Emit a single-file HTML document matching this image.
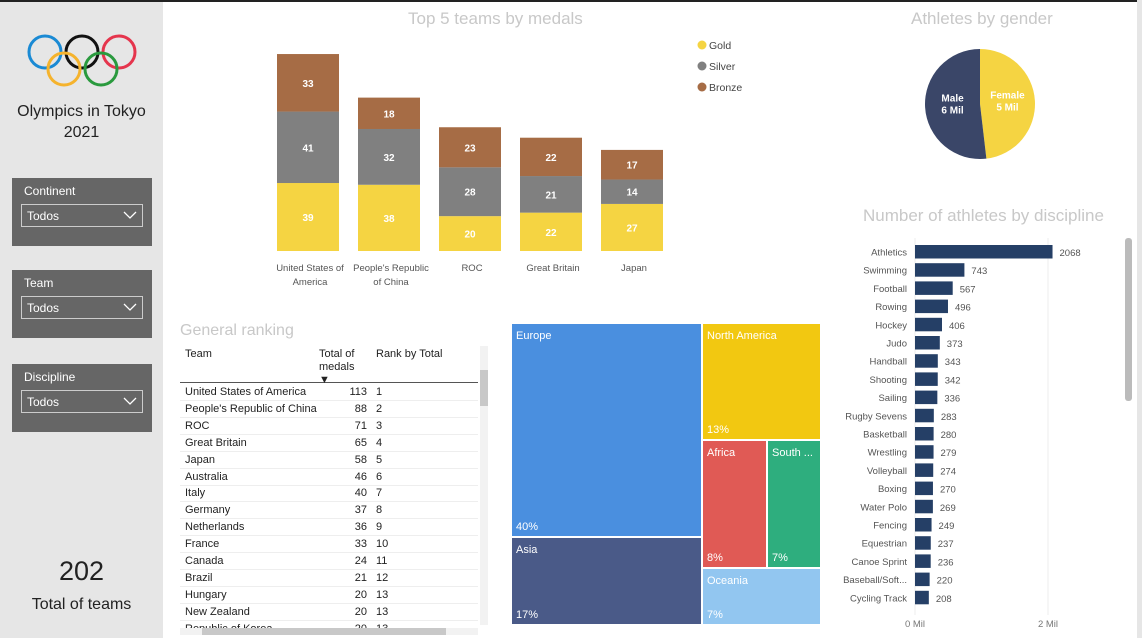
<!DOCTYPE html>
<html><head><meta charset="utf-8">
<style>
*{box-sizing:border-box;margin:0;padding:0}
body{width:1142px;height:638px;overflow:hidden;background:#fff;font-family:"Liberation Sans",sans-serif;position:relative}
.abs{position:absolute}
.title{color:#c8c8c8;font-size:17px;white-space:nowrap}
.slicer{position:absolute;left:12px;width:140px;height:68px;background:#666;color:#fff;font-size:12px}
.slicer .lbl{position:absolute;left:12px;top:6px}
.slicer .dd{position:absolute;left:9px;top:26px;width:122px;height:23px;border:1px solid #ccc;padding:4px 0 0 5px}
.slicer .dd svg{position:absolute;right:5px;top:6px}
.tr{position:absolute;left:180px;width:298px;height:17px;font-size:11px;color:#222;border-bottom:1px solid #eee}
</style></head><body>
<div class="abs" style="left:0;top:0;width:163px;height:638px;background:#e6e6e6"></div>
<div class="abs" style="left:0;top:0;width:1142px;height:2px;background:#222"></div>
<svg class="abs" style="left:25px;top:30px" width="115" height="58" viewBox="0 0 115 58">
<g fill="none" stroke-width="3">
<circle cx="20" cy="22" r="16" stroke="#1a8ad4"/><circle cx="57" cy="22" r="16" stroke="#111"/><circle cx="94" cy="22" r="16" stroke="#e5354d"/>
<circle cx="39" cy="39" r="16" stroke="#f5b32d"/><circle cx="76" cy="39" r="16" stroke="#2a9a3e"/></g></svg>
<div class="abs" style="left:0;top:101px;width:163px;text-align:center;font-size:16px;line-height:21px;color:#222">Olympics in Tokyo<br>2021</div>
<div class="slicer" style="top:178px"><div class="lbl">Continent</div><div class="dd">Todos<svg width="14" height="9"><polyline points="1,1 7,7 13,1" fill="none" stroke="#fff" stroke-width="1.3"/></svg></div></div>
<div class="slicer" style="top:270px"><div class="lbl">Team</div><div class="dd">Todos<svg width="14" height="9"><polyline points="1,1 7,7 13,1" fill="none" stroke="#fff" stroke-width="1.3"/></svg></div></div>
<div class="slicer" style="top:364px"><div class="lbl">Discipline</div><div class="dd">Todos<svg width="14" height="9"><polyline points="1,1 7,7 13,1" fill="none" stroke="#fff" stroke-width="1.3"/></svg></div></div>
<div class="abs" style="left:0;top:556px;width:163px;text-align:center;font-size:27px;color:#222">202</div>
<div class="abs" style="left:0;top:596px;width:163px;text-align:center;font-size:16px;color:#222">Total of teams</div>

<div class="abs title" style="left:408px;top:9px">Top 5 teams by medals</div>
<svg class="abs" id="top5" style="left:0;top:0" width="760" height="300"></svg>

<div class="abs title" style="left:911px;top:9px">Athletes by gender</div>
<svg class="abs" id="pie" style="left:900px;top:28px" width="160" height="160"></svg>

<div class="abs title" style="left:863px;top:206px">Number of athletes by discipline</div>
<svg class="abs" id="disc" style="left:830px;top:230px" width="300" height="408"></svg>
<div class="abs" style="left:1125px;top:238px;width:7px;height:163px;background:#bbb;border-radius:3px"></div>
<div class="abs" style="left:1137px;top:0;width:5px;height:638px;background:#e6e6e6"></div>

<div class="abs title" style="left:180px;top:322px;font-size:16px">General ranking</div>
<div class="abs" style="left:180px;top:346px;width:298px;height:37px;border-bottom:1px solid #555;font-size:11px;color:#222">
<span class="abs" style="left:5px;top:2px">Team</span><span class="abs" style="left:139px;top:2px;line-height:13px">Total of<br>medals<br>&#9660;</span><span class="abs" style="left:196px;top:2px">Rank by Total</span></div>
<div id="rows"></div>
<div class="abs" style="left:480px;top:346px;width:8px;height:279px;background:#f2f2f2"><div style="margin-top:24px;height:36px;background:#c8c8c8"></div></div>
<div class="abs" style="left:180px;top:628px;width:298px;height:7px;background:#f2f2f2"><div style="margin-left:22px;width:244px;height:7px;background:#c8c8c8"></div></div>

<div class="abs" id="tree" style="left:511px;top:323px;width:310px;height:302px"></div>

<script>
const NS='http://www.w3.org/2000/svg';
function mk(p,t,a){const e=document.createElementNS(NS,t);for(const k in a)e.setAttribute(k,a[k]);p.appendChild(e);return e;}
// Top 5
const teams=['United States of|America',"People's Republic|of China",'ROC','Great Britain','Japan'];
const gold=[39,38,20,22,27];
const silver=[41,32,28,21,14];
const bronze=[33,18,23,22,17];
const legendLabels=['Gold','Silver','Bronze'];
const cols=['#f5d442','#808080','#a66c45'];
const s=document.getElementById('top5');
const base=251,k=1.743,x0=277,step=81,bw=62;
const yv=v=>v*k;
teams.forEach((t,i)=>{let y=base;[gold[i],silver[i],bronze[i]].forEach((v,j)=>{const h=yv(v);y-=h;
const r=mk(s,'rect',{x:x0+i*step,y:y,width:bw,height:h,fill:cols[j]});


const tx=mk(s,'text',{x:x0+i*step+bw/2,y:y+h/2+4,'text-anchor':'middle','font-size':10,'font-weight':'bold',fill:'#fff'});tx.textContent=v;

});
t.split('|').forEach((ln,l)=>{const tx=mk(s,'text',{x:x0+i*step+bw/2+2,y:271+l*14,'text-anchor':'middle','font-size':9.5,fill:'#555'});tx.textContent=ln;

});});
legendLabels.forEach((l,j)=>{const c=mk(s,'circle',{cx:702,cy:45+j*21,r:4.5,fill:cols[j]});


const tx=mk(s,'text',{x:709,y:49+j*21,'font-size':10.5,fill:'#444'});tx.textContent=l;

});
// Pie
const genders=['Female','Male'];
const genderVals=[5.2,5.6];
const genderLbl=['5 Mil','6 Mil'];
const pcol=['#f5d442','#3a4668'];
const p=document.getElementById('pie');const cx=80,cy=76,R=55;
const tot=genderVals.reduce((a,b)=>a+b,0);let a0=0;
genderVals.forEach((v,i)=>{const a1=a0+v/tot*2*Math.PI;
const P=a=>[cx+R*Math.sin(a),cy-R*Math.cos(a)];const [x1,y1]=P(a0),[x2,y2]=P(a1);
const path=mk(p,'path',{d:`M${cx},${cy}L${x1},${y1}A${R},${R} 0 ${a1-a0>Math.PI?1:0} 1 ${x2},${y2}Z`,fill:pcol[i]});


const am=(a0+a1)/2;const lx=cx+R*0.5*Math.sin(am),ly=cy-R*0.5*Math.cos(am)-4;
[genders[i],genderLbl[i]].forEach((t,l)=>{const tx=mk(p,'text',{x:lx,y:ly+l*12,'text-anchor':'middle','font-size':10,'font-weight':'bold',fill:'#fff'});tx.textContent=t;

});
a0=a1;});
// Discipline bars
const disciplines=['Athletics','Swimming','Football','Rowing','Hockey','Judo','Handball','Shooting','Sailing','Rugby Sevens','Basketball','Wrestling','Volleyball','Boxing','Water Polo','Fencing','Equestrian','Canoe Sprint','Baseball/Soft...','Cycling Track'];
const athletes=[2068,743,567,496,406,373,343,342,336,283,280,279,274,270,269,249,237,236,220,208];
const dTicks=[0,2000];
const dTickLbl=['0 Mil','2 Mil'];
const d=document.getElementById('disc');const dx0=85,kx=133/2000,dy0=22,dstep=18.2;
dTicks.forEach((t,i)=>{const x=dx0+t*kx;mk(d,'line',{x1:x,x2:x,y1:8,y2:385,stroke:'#eee'});
const tx=mk(d,'text',{x:x,y:397,'text-anchor':'middle','font-size':9.5,fill:'#777'});tx.textContent=dTickLbl[i];

});
disciplines.forEach((n,i)=>{const y=dy0+i*dstep;const w=athletes[i]*kx;
const r=mk(d,'rect',{x:dx0,y:y-7,width:w,height:13.5,fill:'#253f66'});


const t1=mk(d,'text',{x:77,y:y+3.5,'text-anchor':'end','font-size':9.5,fill:'#555'});t1.textContent=n;


const t2=mk(d,'text',{x:dx0+w+7,y:y+4,'font-size':9.5,fill:'#555'});t2.textContent=athletes[i];

});
// Table
const rTeams=['United States of America',"People's Republic of China",'ROC','Great Britain','Japan','Australia','Italy','Germany','Netherlands','France','Canada','Brazil','Hungary','New Zealand','Republic of Korea'];
const rTotals=[113,88,71,65,58,46,40,37,36,33,24,21,20,20,20];
const rRanks=[1,2,3,4,5,6,7,8,9,10,11,12,13,13,13];
const rows=document.getElementById('rows');
rTeams.forEach((t,i)=>{const el=document.createElement('div');el.className='tr';el.style.top=(384+i*16.9)+'px';
if(i==14){el.style.height='9px';el.style.overflow='hidden';el.style.borderBottom='none';}


el.innerHTML=`<span class="abs" style="left:5px;top:2px;white-space:nowrap">${t}</span><span class="abs" style="right:111px;top:2px">${rTotals[i]}</span><span class="abs" style="left:196px;top:2px">${rRanks[i]}</span>`;
rows.appendChild(el);});
// Treemap
const conts=['Europe','Asia','North America','Africa','South ...','Oceania'];
const contVals=[40874,16808,13923,8320,6912,6783];
const contPct=['40%','17%','13%','8%','7%','7%'];
const tcol=['#4a8fdf','#4a5a88','#f2c811','#e05a55','#2eae7e','#92c6f0'];
const tree=document.getElementById('tree');const W=310,H=302;
const T=contVals.reduce((a,b)=>a+b,0);
const lw=W*(contVals[0]+contVals[1])/T;
const eh=H*contVals[0]/(contVals[0]+contVals[1]);
const rest=T-contVals[0]-contVals[1];const rw=W-lw;
const nah=H*contVals[2]/rest;const mh=H*(contVals[3]+contVals[4])/rest;
const afw=rw*contVals[3]/(contVals[3]+contVals[4]);
const rects=[[0,0,lw,eh],[0,eh,lw,H-eh],[lw,0,rw,nah],[lw,nah,afw,mh],[lw+afw,nah,rw-afw,mh],[lw,nah+mh,rw,H-nah-mh]];
rects.forEach((r,i)=>{const el=document.createElement('div');
el.style.cssText=`position:absolute;left:${r[0]}px;top:${r[1]}px;width:${r[2]}px;height:${r[3]}px;background:${tcol[i]};border:1px solid #fff;color:#fff;font-size:11px`;


el.innerHTML=`<span style="position:absolute;left:4px;top:6px;white-space:nowrap">${conts[i]}</span><span style="position:absolute;left:4px;bottom:3px">${contPct[i]}</span>`;
tree.appendChild(el);});
</script>
</body></html>
